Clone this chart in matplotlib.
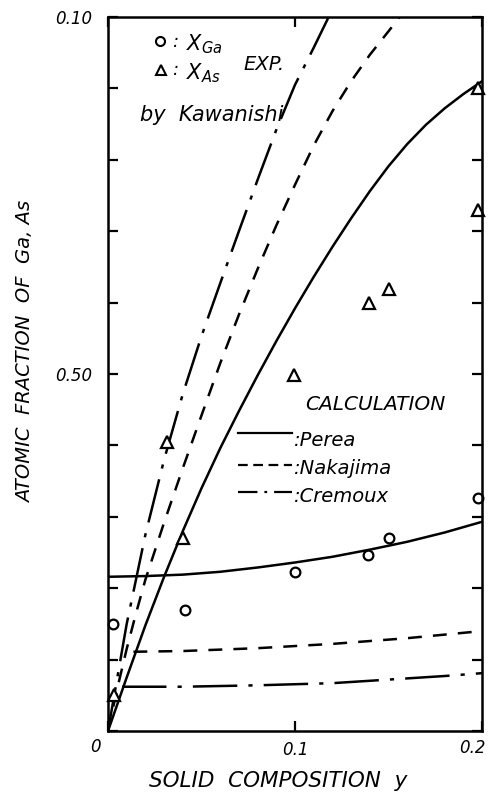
import matplotlib
matplotlib.use("Agg")
import matplotlib.pyplot as plt
from matplotlib.lines import Line2D

# ---- data -------------------------------------------------------------
# solid composition y
perea_as_y = [0.0, 0.01, 0.02, 0.03, 0.04, 0.05, 0.06, 0.07, 0.08, 0.09, 0.10,
              0.11, 0.12, 0.13, 0.14, 0.15, 0.16, 0.17, 0.18, 0.19, 0.20]
perea_as = [0.0, 0.075, 0.148, 0.216, 0.28, 0.34, 0.396, 0.448, 0.498, 0.546, 0.592,
            0.636, 0.678, 0.718, 0.756, 0.791, 0.822, 0.849, 0.872, 0.892, 0.91]

perea_ga_y = [0.0, 0.02, 0.04, 0.06, 0.08, 0.10, 0.12, 0.14, 0.16, 0.18, 0.20]
perea_ga = [0.216, 0.217, 0.219, 0.223, 0.229, 0.236, 0.244, 0.254, 0.265, 0.278, 0.293]

nakajima_as_y = [0.0, 0.005, 0.01, 0.015, 0.02, 0.03, 0.04, 0.05, 0.06, 0.07, 0.08,
                 0.09, 0.10, 0.11, 0.12, 0.13, 0.14, 0.15, 0.156]
nakajima_as = [0.0, 0.06, 0.115, 0.165, 0.212, 0.292, 0.368, 0.442, 0.515, 0.583, 0.647,
               0.708, 0.765, 0.82, 0.868, 0.91, 0.947, 0.98, 1.0]

nakajima_ga_y = [0.0136, 0.04, 0.08, 0.12, 0.16, 0.20]
nakajima_ga = [0.111, 0.112, 0.116, 0.122, 0.130, 0.140]

cremoux_as_y = [0.0, 0.005, 0.01, 0.02, 0.03, 0.04, 0.05, 0.06, 0.07, 0.08, 0.09,
                0.10, 0.11, 0.118]
cremoux_as = [0.0, 0.075, 0.15, 0.275, 0.38, 0.472, 0.553, 0.627, 0.70, 0.772, 0.842,
              0.905, 0.957, 1.0]

cremoux_ga_y = [0.0075, 0.04, 0.08, 0.12, 0.15, 0.18, 0.20]
cremoux_ga = [0.062, 0.062, 0.064, 0.067, 0.072, 0.077, 0.081]

# experiment (Kawanishi)
exp_ga_y = [0.0025, 0.041, 0.0998, 0.1389, 0.1505, 0.198]
exp_ga = [0.150, 0.170, 0.222, 0.247, 0.270, 0.326]

exp_as_y = [0.003, 0.0403, 0.0317, 0.0992, 0.1398, 0.150, 0.198, 0.198]
exp_as = [0.05, 0.270, 0.405, 0.499, 0.599, 0.619, 0.730, 0.900]

x_ticks = [0.0, 0.1, 0.2]
x_ticklabels = ["", "0.1", ""]
y_ticks = [0.0, 0.1, 0.2, 0.3, 0.4, 0.5, 0.6, 0.7, 0.8, 0.9, 1.0]
y_ticklabels = ["", "", "", "", "", "0.50", "", "", "", "", "0.10"]

# ---- figure -----------------------------------------------------------
plt.rcParams["font.family"] = ["DejaVu Sans"]
plt.rcParams["font.style"] = "oblique"
plt.rcParams["mathtext.fontset"] = "dejavusans"
plt.rcParams["lines.scale_dashes"] = False

W, H = 492, 801
fig = plt.figure(figsize=(W / 100, H / 100), dpi=100)
L, R, T, B = 108, 482, 17, 731
ax = fig.add_axes([L / W, 1 - B / H, (R - L) / W, (B - T) / H])
ax.set_xlim(0, 0.2)
ax.set_ylim(0, 1.0)

lw = 1.8
dash_n = (0, (10, 8))
dash_c = (0, (32, 8, 3, 8))

ax.plot(perea_as_y, perea_as, color="black", lw=lw)
ax.plot(perea_ga_y, perea_ga, color="black", lw=lw)
ax.plot(nakajima_as_y, nakajima_as, color="black", lw=lw, ls=dash_n)
ax.plot(nakajima_ga_y, nakajima_ga, color="black", lw=lw, ls=dash_n)
ax.plot(cremoux_as_y, cremoux_as, color="black", lw=lw, ls=dash_c)
ax.plot(cremoux_ga_y, cremoux_ga, color="black", lw=lw, ls=dash_c)

ax.plot(exp_ga_y, exp_ga, ls="none", marker="o", ms=7, mfc="white",
        mec="black", mew=1.6, clip_on=False)
ax.plot(exp_as_y, exp_as, ls="none", marker="^", ms=8, mfc="white",
        mec="black", mew=1.6, clip_on=False)

for s in ax.spines.values():
    s.set_linewidth(1.8)

ax.set_xticks(x_ticks, x_ticklabels)
ax.set_yticks(y_ticks, y_ticklabels)
ax.tick_params(direction="in", length=7, width=1.6, top=True, right=True,
               labelsize=12)
ax.tick_params(axis="y", pad=11)
ax.tick_params(axis="x", pad=7)
for t in ax.get_xticklabels() + ax.get_yticklabels():
    t.set_fontstyle("oblique")


def ftext(px, py, s, **kw):
    fig.text(px / W, 1 - py / H, s, **kw)


ftext(95, 747, "0", fontsize=12, ha="center", va="center")
ftext(472, 748, "0.2", fontsize=12, ha="center", va="center")
ftext(278, 781, "SOLID  COMPOSITION  y", fontsize=15.5, ha="center",
      va="center")
ftext(26, 352, "ATOMIC  FRACTION  OF  Ga, As", fontsize=14, ha="center",
      va="center", rotation=90)

# experiment key
fig.add_artist(Line2D([160 / W], [1 - 41 / H], marker="o", ms=6.5, mfc="white",
                      mec="black", mew=1.5, ls="none"))
fig.add_artist(Line2D([161 / W], [1 - 70 / H], marker="^", ms=7, mfc="white",
                      mec="black", mew=1.5, ls="none"))
ftext(172, 42, ":", fontsize=13, va="center")
ftext(172, 70, ":", fontsize=13, va="center")
ftext(186, 44, r"$X_{Ga}$", fontsize=15, va="center")
ftext(186, 73, r"$X_{As}$", fontsize=15, va="center")
ftext(243, 64, "EXP.", fontsize=14, va="center")
ftext(140, 115, "by  Kawanishi", fontsize=15, va="center")

# calculation key
def ax_xy(px, py):
    return (px - L) / (R - L), (B - py) / (B - T)


for py, ls in [(433, "-"), (465, (0, (7, 4))), (492, (0, (14, 5, 2, 5)))]:
    (x0, y0), (x1, _) = ax_xy(238, py), ax_xy(292, py)
    ax.add_line(Line2D([x0, x1], [y0, y0], transform=ax.transAxes,
                       color="black", lw=1.6, ls=ls))

ftext(305, 405, "CALCULATION", fontsize=14.5, va="center")
ftext(294, 440, ":Perea", fontsize=14, va="center")
ftext(294, 468, ":Nakajima", fontsize=14, va="center")
ftext(294, 497, ":Cremoux", fontsize=14, va="center")

fig.savefig("out.png", dpi=100)
